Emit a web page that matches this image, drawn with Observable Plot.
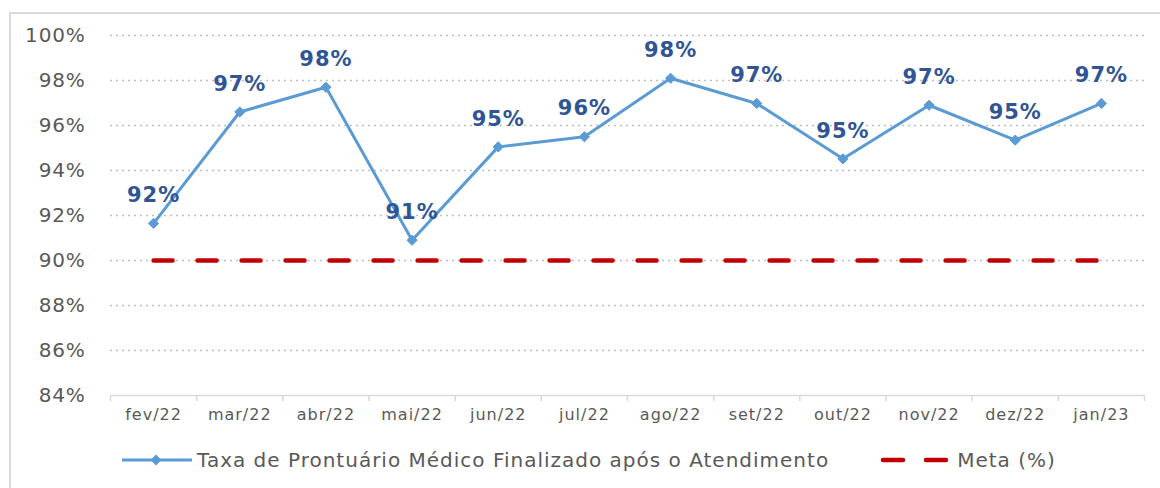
<!DOCTYPE html>
<html>
<head>
<meta charset="utf-8">
<script src="https://cdn.jsdelivr.net/npm/d3@7"></script>
<script src="https://cdn.jsdelivr.net/npm/@observablehq/plot@0.6"></script>
<style>
  html, body { margin: 0; padding: 0; width: 1160px; height: 488px; overflow: hidden; background: #fff; font-family: "DejaVu Sans", sans-serif; }
  #frame { position: absolute; left: 9px; top: 12px; width: 1300px; height: 600px; border: 2px solid #d9d9d9; pointer-events: none; }
  #chart { position: absolute; left: 0; top: 0; }
  #legend { position: absolute; left: 122px; top: 448px; display: flex; align-items: center; font-size: 20px; letter-spacing: 1px; color: #595959; white-space: nowrap; }
  #legend .item { display: flex; align-items: center; }
  #legend svg { display: block; }
  #chart g[aria-label="x-axis tick label"] text { letter-spacing: 1px; }
  #chart g[aria-label="y-axis tick label"] text { letter-spacing: 0.8px; }
  #chart g[aria-label="text"] text { letter-spacing: 1px; }
</style>
</head>
<body>
<div id="chart"></div>
<div id="frame"></div>
<div id="legend"></div>
<script>
const months = ["fev/22","mar/22","abr/22","mai/22","jun/22","jul/22","ago/22","set/22","out/22","nov/22","dez/22","jan/23"];
const taxa = [91.65, 96.6, 97.7, 90.9, 95.05, 95.5, 98.1, 96.98, 94.52, 96.9, 95.35, 96.98];
const taxaLabels = ["92%","97%","98%","91%","95%","96%","98%","97%","95%","97%","95%","97%"];
const meta = [90,90,90,90,90,90,90,90,90,90,90,90];
const yTicks = [84,86,88,90,92,94,96,98,100];
const seriesNames = ["Taxa de Prontuário Médico Finalizado após o Atendimento", "Meta (%)"];

const lineColor = "#5B9BD5";
const metaColor = "#C00000";
const labelColor = "#2F5597";

const rows = months.map((m, i) => ({i, month: m, taxa: taxa[i], label: taxaLabels[i], meta: meta[i]}));
const boundaries = d3.range(months.length + 1).map(i => i - 0.5);

const chart = Plot.plot({
  width: 1160,
  height: 430,
  marginLeft: 110,
  marginRight: 16,
  marginTop: 35,
  marginBottom: 35,
  style: {fontFamily: "DejaVu Sans, sans-serif", background: "transparent", overflow: "visible"},
  x: {type: "linear", domain: [-0.5, months.length - 0.5], axis: null, label: null},
  y: {domain: [84, 100], axis: null, label: null},
  marks: [
    Plot.gridY(yTicks.filter(d => d > 84), {stroke: "#bfbfbf", strokeOpacity: 1, strokeWidth: 1.5, strokeDasharray: "2,4"}),
    Plot.ruleY([84], {stroke: "#d9d9d9", strokeWidth: 1.5}),
    Plot.axisX({ticks: boundaries, tickSize: 6, tickFormat: () => "", label: null, stroke: "#d9d9d9", strokeWidth: 1.5}),
    Plot.axisX({ticks: d3.range(months.length), tickSize: 0, tickPadding: 13, label: null, tickFormat: i => months[i], fontSize: 16, fill: "#595959"}),
    Plot.axisY({ticks: yTicks, tickSize: 0, tickPadding: 25, label: null, tickFormat: d => d + "%", fontSize: 20, fill: "#595959"}),
    Plot.line(rows, {x: "i", y: "meta", stroke: metaColor, strokeWidth: 4.5, strokeDasharray: "19,25", strokeLinecap: "round"}),
    Plot.line(rows, {x: "i", y: "taxa", stroke: lineColor, strokeWidth: 3}),
    Plot.dot(rows, {x: "i", y: "taxa", symbol: "diamond2", r: 4.6, fill: lineColor, stroke: lineColor, strokeWidth: 1}),
    Plot.text(rows, {x: "i", y: "taxa", text: "label", dy: -28, fontSize: 21, fontWeight: "bold", fill: labelColor})
  ]
});
document.getElementById("chart").appendChild(chart);

// Legend
const legend = d3.select("#legend");
const it1 = legend.append("div").attr("class", "item");
const s1 = it1.append("svg").attr("width", 72).attr("height", 20);
s1.append("line").attr("x1", 0).attr("x2", 70).attr("y1", 10).attr("y2", 10).attr("stroke", lineColor).attr("stroke-width", 3);
s1.append("path").attr("d", d3.symbol(d3.symbolDiamond2, 75)()).attr("transform", "translate(34,10)").attr("fill", lineColor);
it1.append("span").style("margin-left", "3px").text(seriesNames[0]);
const it2 = legend.append("div").attr("class", "item").style("margin-left", "52px");
const s2 = it2.append("svg").attr("width", 72).attr("height", 20);
s2.append("line").attr("x1", 2).attr("x2", 70).attr("y1", 10).attr("y2", 10).attr("stroke", metaColor).attr("stroke-width", 4.5).attr("stroke-dasharray", "20,23").attr("stroke-linecap", "round");
it2.append("span").style("margin-left", "4px").text(seriesNames[1]);
</script>
</body>
</html>
